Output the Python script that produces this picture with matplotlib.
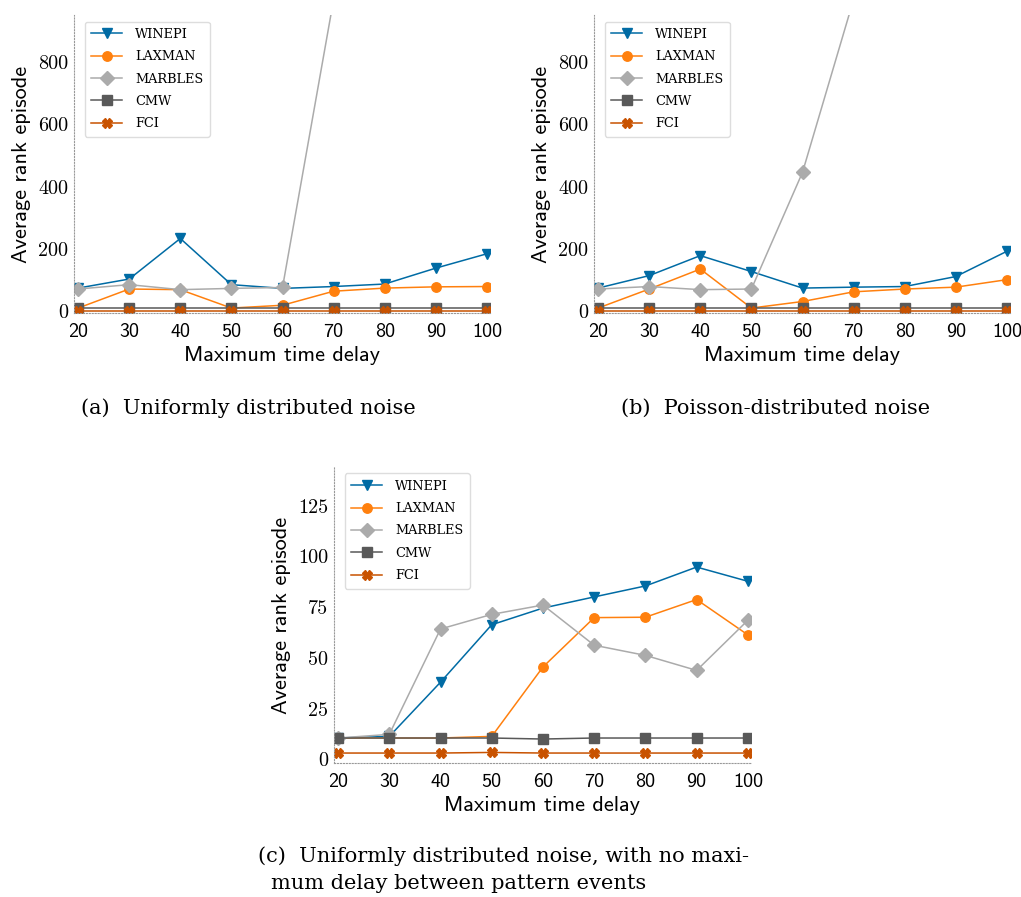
import matplotlib.pyplot as plt
from matplotlib.ticker import FixedLocator

delays = [20, 30, 40, 50, 60, 70, 80, 90, 100]

# (a) uniformly distributed noise
a_winepi = [75, 104, 234, 86, 74, 80, 88, 139, 185]
a_laxman = [11, 72, 70, 11, 20, 65, 75, 79, 80]
a_marbles = [72, 86, 70, 74, 77, 1000, 1500, 2000, 2500]
a_cmw = [10, 10, 10, 10, 10, 10, 10, 10, 10]
a_fci = [3, 3, 3, 3, 3, 3, 3, 3, 3]

# (b) poisson-distributed noise
b_winepi = [75, 115, 179, 128, 75, 78, 80, 112, 193]
b_laxman = [11, 72, 136, 11, 32, 63, 72, 78, 102]
b_marbles = [72, 80, 70, 72, 446, 1000, 1500, 2000, 2500]
b_cmw = [10, 10, 10, 10, 10, 10, 10, 10, 10]
b_fci = [3, 3, 3, 3, 3, 3, 3, 3, 3]

# (c) uniform noise, no max delay between pattern events
c_winepi = [10.5, 11.3, 38, 66.3, 74.5, 80, 85.4, 94.7, 87.7]
c_laxman = [10.5, 10.5, 10.5, 11.3, 45.5, 69.8, 70, 78.7, 61.3]
c_marbles = [10.5, 12.3, 64.2, 71.4, 76, 56.2, 51.2, 43.8, 68.5]
c_cmw = [10.5, 10.5, 10.5, 10.5, 10, 10.5, 10.5, 10.5, 10.5]
c_fci = [3.1, 3.1, 3.1, 3.4, 3.1, 3.1, 3.1, 3.1, 3.1]

names = ["WINEPI", "LAXMAN", "MARBLES", "CMW", "FCI"]
colors = ["#006BA4", "#FF800E", "#ABABAB", "#595959", "#C85200"]
markers = ["v", "o", "D", "s", "X"]

a_yticks = [0, 200, 400, 600, 800]
c_yticks = [0, 25, 50, 75, 100, 125]

fig = plt.figure(figsize=(10.21, 8.97), dpi=100)


def panel(rect, series, ylim, yticks):
    ax = fig.add_axes(rect)
    for vals, name, col, mk in zip(series, names, colors, markers):
        ax.plot(delays, vals, color=col, marker=mk, ms=6.8, lw=1.1, label=name)
    ax.set_xlim(19.2, 100.6)
    ax.set_ylim(*ylim)
    ax.xaxis.set_major_locator(FixedLocator(delays))
    ax.yaxis.set_major_locator(FixedLocator(yticks))
    for s in ["top", "right"]:
        ax.spines[s].set_visible(False)
    for s in ["left", "bottom"]:
        ax.spines[s].set_linestyle(":")
        ax.spines[s].set_color("#999999")
        ax.spines[s].set_linewidth(0.8)
    ax.tick_params(axis="y", length=0, pad=4)
    ax.tick_params(axis="x", length=0, pad=7)
    for t in ax.get_xticklabels():
        t.set_fontfamily("cmss10")
        t.set_fontsize(14.5)
    for t in ax.get_yticklabels():
        t.set_fontfamily("cmr10")
        t.set_fontsize(14.5)
    ax.set_xlabel("Maximum time delay", fontfamily="cmss10", fontsize=16, labelpad=4)
    ax.set_ylabel("Average rank episode", fontfamily="cmss10", fontsize=16, labelpad=5)
    ax.legend(loc="upper left", handlelength=2.4,
              prop={"family": "DejaVu Serif", "size": 9.3},
              borderpad=0.5, labelspacing=0.72, handletextpad=1.0,
              fancybox=True, framealpha=1.0, edgecolor="#dddddd",
              bbox_to_anchor=(0.01, 1.0))
    return ax


panel([0.0725, 0.651, 0.4074, 0.3322],
      [a_winepi, a_laxman, a_marbles, a_cmw, a_fci], (-5, 950), a_yticks)
panel([0.5818, 0.651, 0.4074, 0.3322],
      [b_winepi, b_laxman, b_marbles, b_cmw, b_fci], (-5, 950), a_yticks)
panel([0.3271, 0.1494, 0.4084, 0.33],
      [c_winepi, c_laxman, c_marbles, c_cmw, c_fci], (-1.8, 144), c_yticks)

cap = dict(fontfamily="DejaVu Serif", fontsize=15, va="center")
fig.text(248 / 1021, 1 - 408 / 897, "(a)  Uniformly distributed noise", ha="center", **cap)
fig.text(776 / 1021, 1 - 408 / 897, "(b)  Poisson-distributed noise", ha="center", **cap)
fig.text(258 / 1021, 1 - 856 / 897, "(c)  Uniformly distributed noise, with no maxi-", ha="left", **cap)
fig.text(271 / 1021, 1 - 883 / 897, "mum delay between pattern events", ha="left", **cap)

fig.savefig("out.png", dpi=100)
